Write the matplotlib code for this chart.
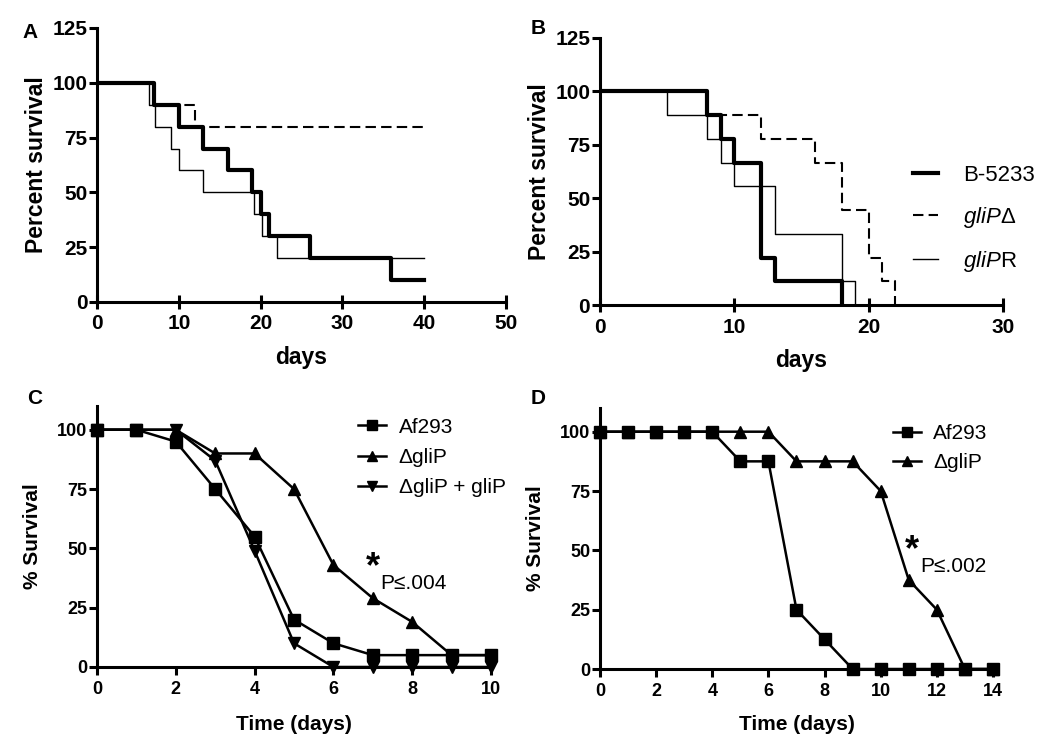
import matplotlib
matplotlib.use("Agg")
import matplotlib.pyplot as plt

plt.rcParams["font.family"] = ["Liberation Sans", "DejaVu Sans"]
plt.rcParams["mathtext.fontset"] = "custom"
plt.rcParams["mathtext.it"] = "Liberation Sans:italic"
plt.rcParams["mathtext.rm"] = "Liberation Sans"

# Panel A: Kaplan-Meier steps (days, percent survival)
a_wt_days = [0, 7, 10, 13, 16, 19, 20, 21, 26, 36, 40]
a_wt_surv = [100, 90, 80, 70, 60, 50, 40, 30, 20, 10, 10]
a_del_days = [0, 7, 12, 40]
a_del_surv = [100, 90, 80, 80]
a_rev_days = [0, 6.3, 7.1, 9, 10, 13, 19.2, 20.2, 22, 40]
a_rev_surv = [100, 90, 80, 70, 60, 50, 40, 30, 20, 20]

# Panel B
b_wt_days = [0, 8, 9, 10, 12, 13, 18]
b_wt_surv = [100, 88.9, 77.8, 66.7, 22.2, 11.1, 0]
b_del_days = [0, 8, 12, 16, 18, 20, 21, 22]
b_del_surv = [100, 88.9, 77.8, 66.7, 44.4, 22.2, 11.1, 0]
b_rev_days = [0, 5, 8, 9, 10, 13, 18, 19]
b_rev_surv = [100, 88.9, 77.8, 66.7, 55.6, 33.3, 11.1, 0]
b_labels = ["B-5233", r"$\mathit{gliP\Delta}$", r"$\mathit{gliP}$R"]

# Panel C
c_days = list(range(11))
c_af293 = [100, 100, 95, 75, 55, 20, 10, 5, 5, 5, 5]
c_dglip = [100, 100, 100, 90, 90, 75, 43, 29, 19, 5, 5]
c_comp = [100, 100, 100, 87, 49, 10, 0, 0, 0, 0, 0]
c_labels = ["Af293", "\u0394gliP", "\u0394gliP + gliP"]

# Panel D
d_days = list(range(15))
d_af293 = [100, 100, 100, 100, 100, 87.5, 87.5, 25, 12.5, 0, 0, 0, 0, 0, 0]
d_dglip = [100, 100, 100, 100, 100, 100, 100, 87.5, 87.5, 87.5, 75, 37.5, 25, 0, 0]
d_labels = ["Af293", "\u0394gliP"]

fig = plt.figure(figsize=(10.5, 7.48), dpi=100)
ax_a = fig.add_axes([0.0924, 0.5963, 0.3895, 0.3663])
ax_b = fig.add_axes([0.5714, 0.5922, 0.3838, 0.357])
ax_c = fig.add_axes([0.0924, 0.1083, 0.3752, 0.3489])
ax_d = fig.add_axes([0.5714, 0.1056, 0.3743, 0.349])


def style_axes(ax, tick_size, xdir):
    for side in ("top", "right"):
        ax.spines[side].set_visible(False)
    for side in ("left", "bottom"):
        ax.spines[side].set_linewidth(2.2)
    ax.tick_params(axis="y", direction="out", length=6, width=2.2,
                   labelsize=tick_size, pad=1)
    ax.tick_params(axis="x", direction=xdir, length=10 if xdir == "inout" else 6,
                   width=2.2, labelsize=tick_size, pad=4)
    for lab in ax.get_xticklabels() + ax.get_yticklabels():
        lab.set_fontweight("bold")


# --- A ---
ax_a.step(a_rev_days, a_rev_surv, where="post", color="black", lw=1.0)
ax_a.step(a_del_days, a_del_surv, where="post", color="black", lw=1.5,
          dashes=(5, 2.5))
ax_a.step(a_wt_days, a_wt_surv, where="post", color="black", lw=3.0)
ax_a.set_xlim(0, 50)
ax_a.set_ylim(0, 125)
ax_a.set_xticks([0, 10, 20, 30, 40, 50])
ax_a.set_yticks([0, 25, 50, 75, 100, 125])
style_axes(ax_a, 15, "inout")
ax_a.set_xlabel("days", fontsize=16.5, fontweight="bold", labelpad=9)
ax_a.set_ylabel("Percent survival", fontsize=16.5, fontweight="bold", labelpad=3)

# --- B ---
lb1, = ax_b.step(b_wt_days, b_wt_surv, where="post", color="black", lw=3.0)
lb2, = ax_b.step(b_del_days, b_del_surv, where="post", color="black", lw=1.5,
                 dashes=(5, 2.5))
lb3, = ax_b.step(b_rev_days, b_rev_surv, where="post", color="black", lw=1.0)
ax_b.set_xlim(0, 30)
ax_b.set_ylim(0, 125)
ax_b.set_xticks([0, 10, 20, 30])
ax_b.set_yticks([0, 25, 50, 75, 100, 125])
style_axes(ax_b, 15, "inout")
ax_b.set_xlabel("days", fontsize=16.5, fontweight="bold", labelpad=9)
ax_b.set_ylabel("Percent survival", fontsize=16.5, fontweight="bold", labelpad=3)
ax_b.legend([lb1, lb2, lb3], b_labels, loc="upper left",
            bbox_to_anchor=(0.727, 0.60), frameon=False, fontsize=16,
            handlelength=1.15, handletextpad=1.1, labelspacing=0.85)

# --- C ---
lc1, = ax_c.plot(c_days, c_af293, color="black", lw=1.8, marker="s", ms=8,
                 clip_on=False, zorder=3)
lc2, = ax_c.plot(c_days, c_dglip, color="black", lw=1.8, marker="^", ms=8,
                 clip_on=False, zorder=3)
lc3, = ax_c.plot(c_days, c_comp, color="black", lw=1.8, marker="v", ms=8,
                 clip_on=False, zorder=3)
ax_c.set_xlim(0, 10)
ax_c.set_ylim(0, 110)
ax_c.set_xticks([0, 2, 4, 6, 8, 10])
ax_c.set_yticks([0, 25, 50, 75, 100])
style_axes(ax_c, 13, "out")
ax_c.set_xlabel("Time (days)", fontsize=15, fontweight="bold", labelpad=12)
ax_c.set_ylabel("% Survival", fontsize=15, fontweight="bold", labelpad=11)
ax_c.legend([lc1, lc2, lc3], c_labels, loc="upper left",
            bbox_to_anchor=(0.615, 1.027), frameon=False, fontsize=15,
            handlelength=1.35, handletextpad=0.6, labelspacing=0.54,
            markerscale=0.9)
ax_c.text(7.0, 42, "*", fontsize=26, fontweight="bold", ha="center", va="center")
ax_c.text(7.18, 35, "P\u2264.004", fontsize=15, ha="left", va="center")

# --- D ---
ld1, = ax_d.plot(d_days, d_af293, color="black", lw=1.8, marker="s", ms=8,
                 clip_on=False, zorder=3)
ld2, = ax_d.plot(d_days, d_dglip, color="black", lw=1.8, marker="^", ms=8,
                 clip_on=False, zorder=3)
ax_d.set_xlim(0, 14)
ax_d.set_ylim(0, 110)
ax_d.set_xticks(list(range(0, 15, 2)))
ax_d.set_yticks([0, 25, 50, 75, 100])
style_axes(ax_d, 13, "out")
ax_d.set_xlabel("Time (days)", fontsize=15, fontweight="bold", labelpad=11)
ax_d.set_ylabel("% Survival", fontsize=15, fontweight="bold", labelpad=11)
ax_d.legend([ld1, ld2], d_labels, loc="upper left",
            bbox_to_anchor=(0.697, 1.011), frameon=False, fontsize=15,
            handlelength=1.35, handletextpad=0.6, labelspacing=0.5,
            markerscale=0.9)
ax_d.text(11.1, 50, "*", fontsize=26, fontweight="bold", ha="center", va="center")
ax_d.text(11.4, 43, "P\u2264.002", fontsize=15, ha="left", va="center")

# panel letters
for letter, x, y in [("A", 30, 32), ("B", 538, 28), ("C", 35, 399), ("D", 538, 399)]:
    fig.text(x / 1050, 1 - y / 748, letter, fontsize=15, fontweight="bold",
             ha="center", va="center")

fig.savefig("out.png", dpi=100)
